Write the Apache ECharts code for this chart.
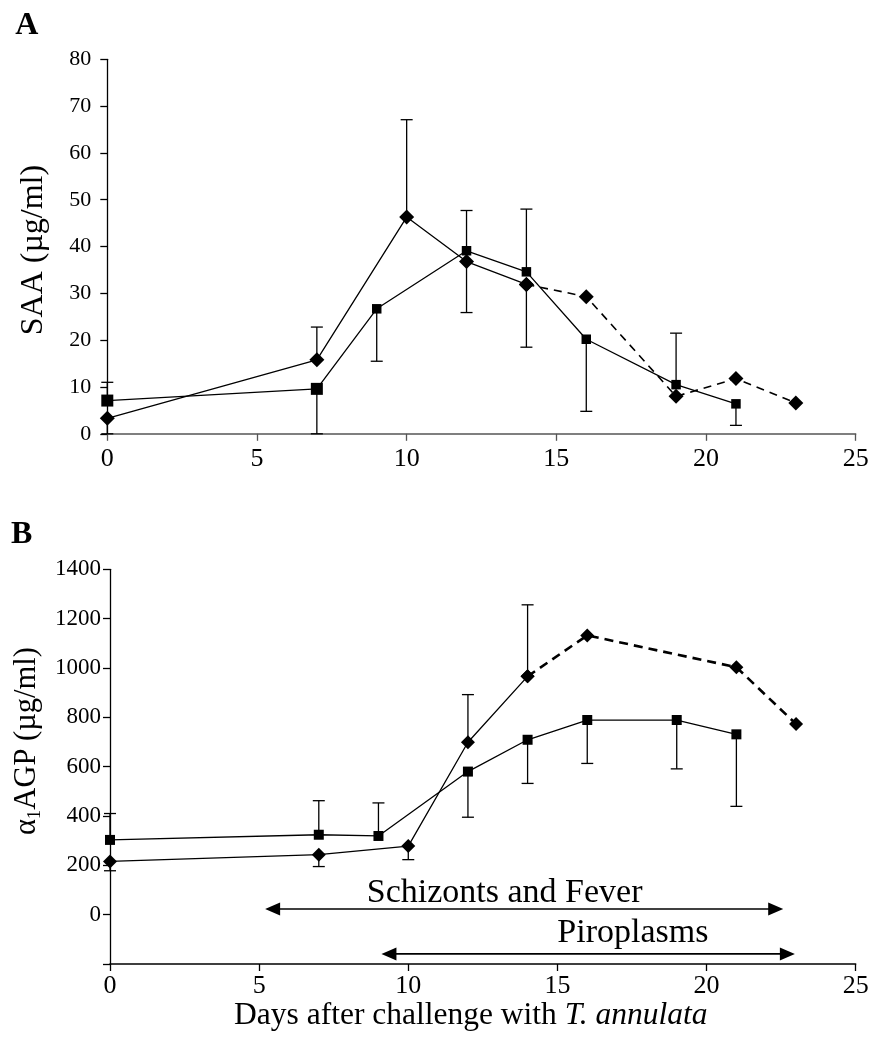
<!DOCTYPE html>
<html><head><meta charset="utf-8">
<script src="https://cdn.jsdelivr.net/npm/echarts@6/dist/echarts.min.js"></script>
<style>html,body{margin:0;padding:0;background:#fff}#c{width:872px;height:1037px}</style>
</head><body><div id="c"></div>
<script>
const FONT = '"Liberation Serif", "Times New Roman", serif';

// ---- Panel A: SAA (µg/ml) ----
const saaSquareDays   = [0, 7, 9, 12, 14, 16, 19, 21];
const saaSquare       = [7.1, 9.6, 26.7, 39.1, 34.6, 20.2, 10.5, 6.4];
const saaSquareErrEnd = [11.0, 0, 15.5, 47.7, 48.0, 4.8, 21.5, 1.8];
const saaDiamondDays   = [0, 7, 10, 12, 14, 16, 19, 21, 23];
const saaDiamond       = [3.3, 15.8, 46.3, 36.8, 31.9, 29.3, 8.0, 11.8, 6.6];
const saaDiamondErrEnd = [0, 22.8, 67.1, 25.9, 18.5, null, null, null, null];

// ---- Panel B: alpha1 AGP (µg/ml) ----
const agpSquareDays   = [0, 7, 9, 12, 14, 16, 19, 21];
const agpSquare       = [303, 324, 319, 580, 709, 789, 789, 731];
const agpSquareErrEnd = [410, 462, 453, 395, 532, 613, 591, 439];
const agpDiamondDays   = [0, 7, 10, 12, 14, 16, 21, 23];
const agpDiamond       = [216, 243, 278, 699, 966, 1132, 1003, 773];
const agpDiamondErrEnd = [178, 195, 223, 892, 1256, null, null, null];

const dashFromIndex = 4; // diamond series drawn dashed from day 14 onward

// ---- phase annotations (panel B) ----
const phaseNames  = ['Schizonts and Fever', 'Piroplasms'];
const phaseStart  = [5.2, 9.1];
const phaseEnd    = [22.57, 22.96];
const phaseArrowY = [23, -159];
const phaseLabelX = [13.23, 17.53];
const phaseLabelY = [89, -73];

const panelLetters = ['A', 'B'];

// ---- helpers ----
const pairs = (xs, ys) => xs.map((x, i) => [x, ys[i]]);
const errData = (xs, ys, es) => xs.map((x, i) => es[i] == null ? null : [x, ys[i], es[i]]).filter(Boolean);

function errItem(params, api) {
  const x = api.value(0), m = api.value(1), e = api.value(2);
  const p1 = api.coord([x, m]), p2 = api.coord([x, e]);
  const hw = 6;
  return { type: 'group', children: [
    { type: 'line', shape: { x1: p1[0], y1: p1[1], x2: p2[0], y2: p2[1] }, style: { stroke: '#000', lineWidth: 1.3 } },
    { type: 'line', shape: { x1: p2[0] - hw, y1: p2[1], x2: p2[0] + hw, y2: p2[1] }, style: { stroke: '#000', lineWidth: 1.3 } }
  ]};
}
function arrowItem(params, api) {
  const a = api.coord([api.value(0), api.value(2)]);
  const b = api.coord([api.value(1), api.value(2)]);
  const L = 15, H = 6.5;
  return { type: 'group', children: [
    { type: 'line', shape: { x1: a[0] + L - 1, y1: a[1], x2: b[0] - L + 1, y2: b[1] }, style: { stroke: '#000', lineWidth: 1.6 } },
    { type: 'polygon', shape: { points: [[a[0], a[1]], [a[0] + L, a[1] - H], [a[0] + L, a[1] + H]] }, style: { fill: '#000' } },
    { type: 'polygon', shape: { points: [[b[0], b[1]], [b[0] - L, b[1] - H], [b[0] - L, b[1] + H]] }, style: { fill: '#000' } }
  ]};
}
function labelItem(params, api) {
  const p = api.coord([api.value(0), api.value(1)]);
  return { type: 'text', x: p[0], y: p[1], style: {
    text: phaseNames[params.dataIndex], fontSize: 34, fontFamily: FONT, fill: '#000',
    align: 'center', verticalAlign: 'middle' } };
}

function xAxisCfg(grid, lineColor, labelSize, margin) {
  return {
    gridIndex: grid, type: 'value', min: 0, max: 25, interval: 5,
    axisLine: { show: true, onZero: false, lineStyle: { color: lineColor, width: 1.5 } },
    axisTick: { show: true, length: 7, lineStyle: { color: lineColor, width: 1.3 } },
    axisLabel: { fontSize: labelSize, fontFamily: FONT, color: '#000', margin: margin },
    splitLine: { show: false }
  };
}

const xa0 = xAxisCfg(0, '#555', 26, 12);
const xa1 = xAxisCfg(1, '#000', 26, 9);
xa1.name = '{n|Days after challenge with }{i|T. annulata}';
xa1.nameLocation = 'middle';
xa1.nameGap = 36;
xa1.nameTextStyle = { padding: [0, 24, 0, 0], rich: {
  n: { fontSize: 31.5, fontFamily: FONT, color: '#000' },
  i: { fontSize: 31.5, fontFamily: FONT, color: '#000', fontStyle: 'italic' } } };

const ya0 = {
  gridIndex: 0, type: 'value', min: 0, max: 80, interval: 10,
  axisLine: { show: true, onZero: false, lineStyle: { color: '#000', width: 1.3 } },
  axisTick: { show: true, length: 7, lineStyle: { color: '#000', width: 1.3 } },
  axisLabel: { fontSize: 22, fontFamily: FONT, color: '#000', margin: 16 },
  splitLine: { show: false },
  name: 'SAA (µg/ml)', nameLocation: 'middle', nameRotate: 90, nameGap: 58,
  nameTextStyle: { fontSize: 32, fontFamily: FONT, color: '#000', padding: [0, 7, 0, 0] }
};
const ya1 = {
  gridIndex: 1, type: 'value', min: -200, max: 1400, interval: 200,
  axisLine: { show: true, onZero: false, lineStyle: { color: '#000', width: 1.3 } },
  axisTick: { show: true, length: 7, lineStyle: { color: '#000', width: 1.3 } },
  axisLabel: { fontSize: 23, fontFamily: FONT, color: '#000', margin: 9,
    formatter: v => (v < 0 ? '' : String(v)) },
  splitLine: { show: false },
  name: '{a|α}{s|1}{a|AGP (µg/ml)}', nameLocation: 'middle', nameRotate: 90, nameGap: 58,
  nameTextStyle: { padding: [0, 0, 0, 51], rich: {
    a: { fontSize: 30.5, fontFamily: FONT, color: '#000', lineHeight: 34, verticalAlign: 'middle' },
    s: { fontSize: 19, fontFamily: FONT, color: '#000', lineHeight: 34, verticalAlign: 'bottom' } } }
};

function lineSeries(xi, data, symbol, size, lw, dash) {
  return {
    type: 'line', xAxisIndex: xi, yAxisIndex: xi, data: data, z: 3,
    symbol: symbol, symbolSize: size, showAllSymbol: true,
    itemStyle: { color: '#000' },
    lineStyle: { color: '#000', width: lw, type: dash || 'solid' },
    emphasis: { disabled: true }, silent: true
  };
}
function errSeries(xi, data) {
  return { type: 'custom', xAxisIndex: xi, yAxisIndex: xi, data: data, renderItem: errItem, z: 2, silent: true, clip: false };
}

const saaD = pairs(saaDiamondDays, saaDiamond);
const agpD = pairs(agpDiamondDays, agpDiamond);

const option = {
  animation: false,
  backgroundColor: '#fff',
  grid: [
    { left: 107.3, top: 59.3, width: 748.4, height: 374.5 },
    { left: 110, top: 569.3, width: 745.7, height: 394.7 }
  ],
  xAxis: [xa0, xa1],
  yAxis: [ya0, ya1],
  graphic: [
    { type: 'text', x: 26.7, y: 26, style: { text: panelLetters[0], fontSize: 32, fontWeight: 'bold', fontFamily: FONT, fill: '#000', align: 'center', verticalAlign: 'middle' } },
    { type: 'text', x: 21.7, y: 534.5, style: { text: panelLetters[1], fontSize: 32, fontWeight: 'bold', fontFamily: FONT, fill: '#000', align: 'center', verticalAlign: 'middle' } }
  ],
  series: [
    errSeries(0, errData(saaSquareDays, saaSquare, saaSquareErrEnd)),
    errSeries(0, errData(saaDiamondDays, saaDiamond, saaDiamondErrEnd)),
    lineSeries(0, pairs(saaSquareDays, saaSquare), 'rect', (v, p) => (p.dataIndex < 2 ? 12 : 9.5), 1.3),
    lineSeries(0, saaD.slice(0, dashFromIndex + 1), 'diamond', 15, 1.3),
    lineSeries(0, saaD.slice(dashFromIndex), 'diamond', 15, 1.6, [8, 6]),

    errSeries(1, errData(agpSquareDays, agpSquare, agpSquareErrEnd)),
    errSeries(1, errData(agpDiamondDays, agpDiamond, agpDiamondErrEnd)),
    lineSeries(1, pairs(agpSquareDays, agpSquare), 'rect', 10, 1.3),
    lineSeries(1, agpD.slice(0, dashFromIndex + 1), 'diamond', 14, 1.3),
    lineSeries(1, agpD.slice(dashFromIndex), 'diamond', 14, 2.6, [9, 6]),

    { type: 'custom', xAxisIndex: 1, yAxisIndex: 1, renderItem: arrowItem, silent: true, clip: false, z: 2,
      data: phaseStart.map((s, i) => [s, phaseEnd[i], phaseArrowY[i]]) },
    { type: 'custom', xAxisIndex: 1, yAxisIndex: 1, renderItem: labelItem, silent: true, clip: false, z: 2,
      data: phaseLabelX.map((x, i) => [x, phaseLabelY[i]]) }
  ]
};

const chart = echarts.init(document.getElementById('c'), null, { renderer: 'canvas' });
chart.setOption(option);
</script>
</body></html>
